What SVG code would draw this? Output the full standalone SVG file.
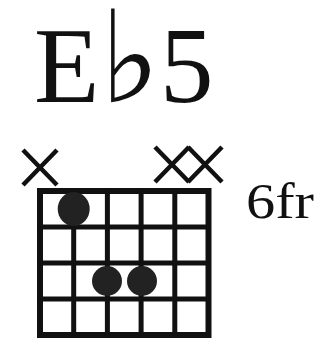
<svg xmlns="http://www.w3.org/2000/svg" width="320" height="357" viewBox="0 0 320 357">
<style>
.t{font-family:"Liberation Serif","Times New Roman",serif;fill:#111}
.g{stroke:#111;fill:none;stroke-linecap:square}
.x{stroke:#111;stroke-width:4.5;stroke-linecap:butt;fill:none}
.d{fill:#222}
</style>
<rect width="320" height="357" fill="#fff"/>
<g id="title">
<text class="t" font-size="107" y="102"><tspan x="34">E</tspan><tspan x="100" style="font-family:'DejaVu Sans',sans-serif;font-size:128px">♭</tspan><tspan x="160">5</tspan></text>
</g>
<g id="muted">
<path class="x" d="M23 150L57 185M57 150L23 185"/>
<path class="x" d="M155 147L189 182M189 147L155 182"/>
<path class="x" d="M188 147L222 182M222 147L188 182"/>
</g>
<g id="grid">
<rect class="g" x="40" y="191" width="168.5" height="144" stroke-width="6"/>
<path class="g" stroke-width="5" d="M73.7 191V335M107.4 191V335M141.1 191V335M174.8 191V335M40 227H208.5M40 263H208.5M40 299H208.5"/>
</g>
<g id="dots">
<ellipse class="d" cx="73.7" cy="209" rx="16" ry="17"/>
<ellipse class="d" cx="107" cy="281" rx="15" ry="15"/>
<ellipse class="d" cx="142" cy="281" rx="15" ry="15"/>
</g>
<g id="fret">
<text class="t" font-size="50" x="246" y="218" textLength="68" lengthAdjust="spacingAndGlyphs">6fr</text>
</g>
</svg>
